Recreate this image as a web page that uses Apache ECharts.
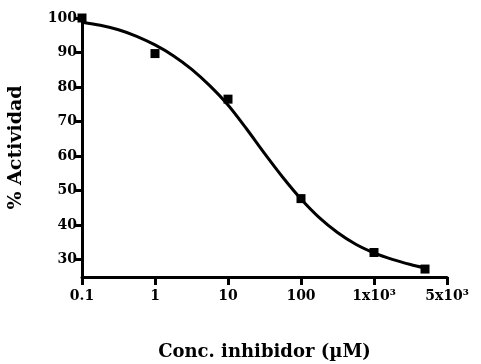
<!DOCTYPE html>
<html>
<head>
<meta charset="utf-8">
<script src="https://cdn.jsdelivr.net/npm/echarts@6/dist/echarts.min.js"></script>
<style>
  html, body { margin: 0; padding: 0; background: #ffffff; }
  #chart { width: 481px; height: 364px; }
</style>
</head>
<body>
<div id="chart"></div>
<script>
// Measured activity at each inhibitor concentration (µM)
const concentrations = [0.1, 1, 10, 100, 1000, 5000];
const activity = [100, 89.7, 76.5, 47.7, 32.1, 27.3];

// Dose-response fit, sampled every quarter decade
const fitConc = [0.1, 0.178, 0.316, 0.562, 1, 1.78, 3.16, 5.62, 10, 17.8, 31.6, 56.2,
                 100, 178, 316, 562, 1000, 1780, 3160, 5000];
const fitActivity = [98.8, 97.9, 96.6, 94.7, 92.2, 89.1, 85.2, 80.4, 74.8, 68.0, 60.8, 53.9,
                     47.6, 42.2, 37.9, 34.5, 32.0, 30.1, 28.6, 27.6];

// Axis ticks
const xTickLabels = ['0.1', '1', '10', '100', '1x10³', '5x10³'];
const yTicks = [30, 40, 50, 60, 70, 80, 90, 100];

const font = 'DejaVu Serif';

const chart = echarts.init(document.getElementById('chart'), null, { renderer: 'canvas' });

chart.setOption({
  animation: false,
  backgroundColor: '#ffffff',
  grid: { left: 82, right: 34, top: 18, bottom: 87, containLabel: false, outerBoundsMode: 'none' },
  xAxis: {
    type: 'log',
    logBase: 10,
    min: 0.1,
    max: 10000,
    name: 'Conc. inhibidor (µM)',
    nameLocation: 'middle',
    nameGap: 66,
    nameTextStyle: { fontFamily: font, fontWeight: 'bold', fontSize: 18, color: '#000' },
    axisLine: { show: true, lineStyle: { color: '#000', width: 3 } },
    axisTick: { show: true, length: 8, lineStyle: { color: '#000', width: 3 } },
    axisLabel: {
      margin: 12,
      fontFamily: font, fontWeight: 'bold', fontSize: 14, color: '#000',
      formatter: function (value, index) { return xTickLabels[index] !== undefined ? xTickLabels[index] : ''; }
    },
    splitLine: { show: false }
  },
  yAxis: {
    type: 'value',
    min: 25,
    max: 100,
    name: '% Actividad',
    nameLocation: 'middle',
    nameGap: 56,
    nameTextStyle: { fontFamily: font, fontWeight: 'bold', fontSize: 19, color: '#000' },
    axisLine: { show: true, lineStyle: { color: '#000', width: 3 } },
    axisTick: { show: true, length: 7, customValues: yTicks, lineStyle: { color: '#000', width: 3 } },
    axisLabel: {
      margin: 5,
      customValues: yTicks,
      fontFamily: font, fontWeight: 'bold', fontSize: 14, color: '#000'
    },
    splitLine: { show: false }
  },
  series: [
    {
      type: 'line',
      data: fitConc.map((c, i) => [c, fitActivity[i]]),
      smooth: 0.3,
      showSymbol: false,
      lineStyle: { color: '#000', width: 3 },
      z: 2
    },
    {
      type: 'scatter',
      data: concentrations.map((c, i) => [c, activity[i]]),
      symbol: 'rect',
      symbolSize: 9,
      itemStyle: { color: '#000', opacity: 1 },
      z: 3
    }
  ]
});
</script>
</body>
</html>
